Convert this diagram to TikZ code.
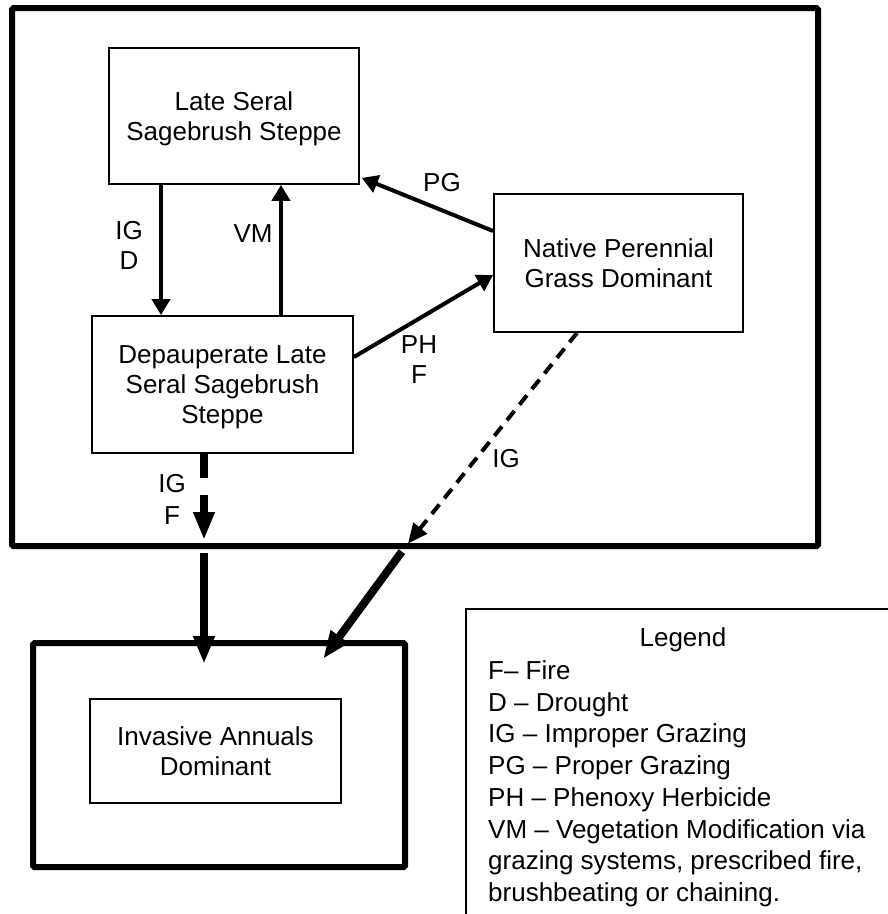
\documentclass[tikz,border=0pt]{standalone}
\usepackage{fontspec}
\setmainfont{Liberation Sans}
\usetikzlibrary{arrows.meta,positioning,calc}
\tikzstyle{box} = [draw, line width=1.8pt, align=center, inner sep=0pt, text depth=0pt, font=\fontsize{26}{30}\selectfont]
\tikzstyle{region} = [draw, line width=6pt, rounded corners=1.5pt, inner sep=0pt]
\tikzstyle{arrow} = [line width=4pt, -{Triangle[length=16pt,width=18pt]}]
\tikzstyle{thickarrow} = [line width=8pt, -{Triangle[length=28pt,width=20pt]}]
\tikzstyle{tag} = [align=center, inner sep=0pt, font=\fontsize{26}{30}\selectfont]

\begin{document}
\begin{tikzpicture}[x=1pt,y=-1pt]
    \useasboundingbox (0,0) rectangle (888,914);
    % Regions
    \node[region, minimum width=806pt, minimum height=538pt] (upper) at (415,277) {};
    \node[region, minimum width=372pt, minimum height=224pt] (lower) at (219,755) {};
    % States
    \node[box, minimum width=250pt, minimum height=136pt] (late) at (234,116) {Late Seral\\Sagebrush Steppe};
    \node[box, minimum width=261pt, minimum height=137pt] (depau) at (222.5,384.5) {Depauperate Late\\Seral Sagebrush\\Steppe};
    \node[box, minimum width=249pt, minimum height=138pt] (native) at (618.5,263) {Native Perennial\\Grass Dominant};
    \node[box, minimum width=251pt, minimum height=104pt] (invasive) at (215.5,751) {Invasive Annuals\\Dominant};
    % Crossing points on the region border
    \coordinate (dropa) at (204,546);
    \coordinate (dropb) at (406,546);
    % Transitions
    \draw[arrow] (late.south -| 161,0) -- (depau.north -| 161,0);
    \draw[arrow] (depau.north -| 281,0) -- (late.south -| 281,0);
    \draw[arrow] ([yshift=32pt]native.west) -- ([shift={(2pt,7pt)}]late.south east);
    \draw[arrow] ([yshift=27.5pt]depau.east) -- ([yshift=-12pt]native.west);
    \draw[line width=4pt, dash pattern=on 12pt off 8pt, -{Triangle[length=20pt,width=17pt]}, shorten >=3pt] (native.south -| 577,0) -- (dropb);
    \draw[thickarrow, shorten <=7pt] (dropb) -- ($(lower.north east)+(-85,19)$);
    \draw[thickarrow, dash pattern=on 24pt off 17pt, shorten >=6pt] (depau.south -| dropa) -- (dropa);
    \draw[thickarrow, shorten <=7pt] (dropa) -- ($(lower.north -| dropa)+(0,24)$);
    % Labels
    \node[tag] (igd) at (129,245) {IG\\D};
    \node[tag] (vm) at (253,234) {VM};
    \node[tag] (pg) at (442,183) {PG};
    \node[tag] (phf) at (419,360) {PH\\F};
    \node[tag] (igdash) at (506,459) {IG};
    \node[tag, font=\fontsize{26}{32}\selectfont] (igf) at (172,499) {IG\\F};
    % Legend
    \draw[line width=1.8pt] (888,609) -- (466,609) -- (466,914);
    \node[anchor=base, font=\fontsize{26}{30}\selectfont] (title) at (683,646.3) {Legend};
    \node[anchor=base west, align=left, inner sep=0pt, font=\fontsize{26}{31.7}\selectfont] (key) at (488,901.4)
        {F– Fire\\D – Drought\\IG – Improper Grazing\\PG – Proper Grazing\\PH – Phenoxy Herbicide\\VM – Vegetation Modification via\\grazing systems, prescribed fire,\\brushbeating or chaining.};
\end{tikzpicture}
\end{document}
